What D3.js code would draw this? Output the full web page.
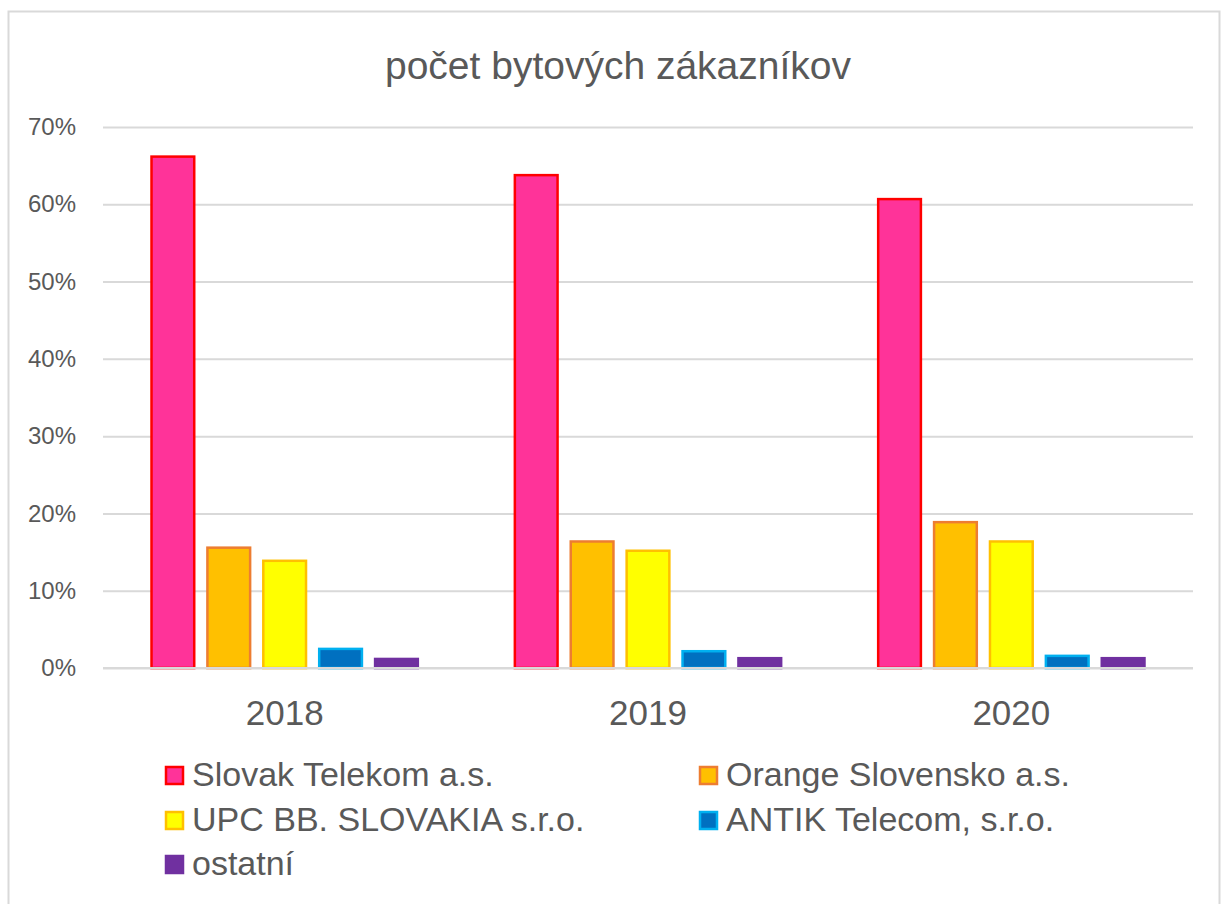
<!DOCTYPE html>
<html>
<head>
<meta charset="utf-8">
<script src="https://cdn.jsdelivr.net/npm/d3@7"></script>
<style>
  body { margin: 0; background: #fff; }
  text { font-family: "Liberation Sans", Arial, sans-serif; fill: #595959; }
</style>
</head>
<body>
<div id="chart"></div>
<script>
// data
var years = ["2018", "2019", "2020"];
var series = ["Slovak Telekom a.s.", "Orange Slovensko a.s.", "UPC BB. SLOVAKIA s.r.o.", "ANTIK Telecom, s.r.o.", "ostatní"];
var telekom = [0.663, 0.639, 0.608];
var orange = [0.157, 0.165, 0.190];
var upc = [0.140, 0.153, 0.165];
var antik = [0.026, 0.023, 0.017];
var ostatni = [0.013, 0.014, 0.014];
var yTicks = [0, 0.1, 0.2, 0.3, 0.4, 0.5, 0.6, 0.7];

var values = [telekom, orange, upc, antik, ostatni];
var fills = ["#FF3399", "#FFC000", "#FFFF00", "#0070C0", "#7030A0"];
var strokes = ["#FF0000", "#ED7D31", "#FFC000", "#00B0F0", "#7030A0"];

var W = 1228, H = 904;
var margin = {top: 127, right: 35, bottom: 236, left: 103},
    width = W - margin.left - margin.right,
    height = H - margin.top - margin.bottom;

var svg = d3.select("#chart")
  .append("svg")
    .attr("width", W)
    .attr("height", H);

// chart border
svg.append("rect")
  .attr("x", 8.5).attr("y", 11.5)
  .attr("width", 1211).attr("height", 900)
  .attr("fill", "none")
  .attr("stroke", "#D9D9D9")
  .attr("stroke-width", 2);

svg.append("text")
  .attr("x", 618).attr("y", 79)
  .attr("text-anchor", "middle")
  .style("font-size", "39px")
  .text("počet bytových zákazníkov");

var g = svg.append("g")
  .attr("transform", "translate(" + margin.left + "," + margin.top + ")");

var x0 = d3.scaleBand().domain(years).range([0, width]).padding(0);
var x1 = d3.scaleBand().domain(d3.range(series.length))
  .range([0, x0.bandwidth()])
  .paddingInner(0.2)
  .paddingOuter(0.85);
var y = d3.scaleLinear().domain([0, 0.7]).range([height, 0]);

// gridlines
g.append("g")
  .call(d3.axisLeft(y).tickValues(yTicks).tickSize(-width).tickFormat(""))
  .call(function(a) { a.select(".domain").remove(); })
  .selectAll("line")
    .attr("stroke", "#D9D9D9")
    .attr("stroke-width", 2);

// y labels
g.append("g")
  .call(d3.axisLeft(y).tickValues(yTicks).tickSize(0).tickPadding(27).tickFormat(d3.format(".0%")))
  .call(function(a) { a.select(".domain").remove(); })
  .selectAll("text")
    .style("font-size", "24px")
    .attr("fill", "#595959");

// bars
var groups = g.selectAll(".year")
  .data(years)
  .enter().append("g")
    .attr("transform", function(d) { return "translate(" + x0(d) + ",0)"; });

groups.selectAll("rect")
  .data(function(d, i) { return values.map(function(v, s) { return {s: s, v: v[i]}; }); })
  .enter().append("rect")
    .attr("x", function(d) { return x1(d.s) + 1; })
    .attr("y", function(d) { return y(d.v) + 1; })
    .attr("width", x1.bandwidth() - 2)
    .attr("height", function(d) { return height - y(d.v) - 1; })
    .attr("fill", function(d) { return fills[d.s]; })
    .attr("stroke", function(d) { return strokes[d.s]; })
    .attr("stroke-width", 2.5);

// x axis line + labels
g.append("line")
  .attr("x1", 0).attr("x2", width)
  .attr("y1", height).attr("y2", height)
  .attr("stroke", "#D9D9D9")
  .attr("stroke-width", 2);

g.append("g")
  .attr("transform", "translate(0," + height + ")")
  .call(d3.axisBottom(x0).tickSize(0).tickPadding(32))
  .call(function(a) { a.select(".domain").remove(); })
  .selectAll("text")
    .style("font-size", "35px")
    .attr("fill", "#595959");

// legend
var legendPos = [[165, 786], [699, 786], [165, 831], [699, 831], [165, 875]];
var legend = svg.selectAll(".legend")
  .data(series)
  .enter().append("g")
    .attr("transform", function(d, i) { return "translate(" + legendPos[i][0] + "," + legendPos[i][1] + ")"; });

legend.append("rect")
  .attr("x", 1).attr("y", -19)
  .attr("width", 17).attr("height", 17)
  .attr("fill", function(d, i) { return fills[i]; })
  .attr("stroke", function(d, i) { return strokes[i]; })
  .attr("stroke-width", 2.5);

legend.append("text")
  .attr("x", 27).attr("y", 0)
  .style("font-size", "34px")
  .text(function(d) { return d; });
</script>
</body>
</html>
